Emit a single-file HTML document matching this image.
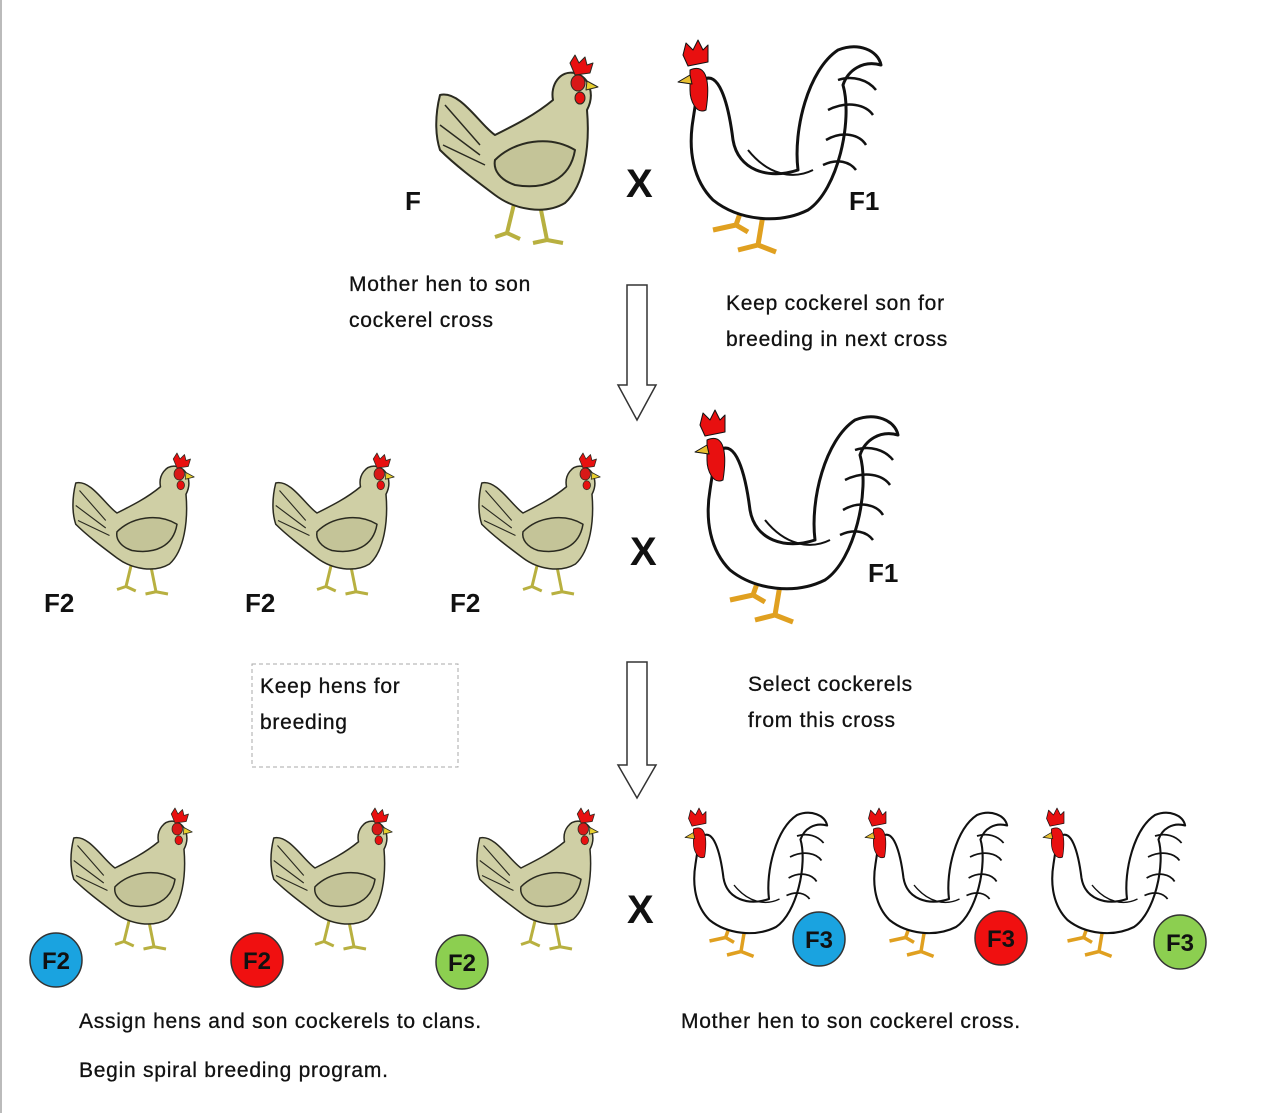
<!DOCTYPE html>
<html><head><meta charset="utf-8"><style>
body{margin:0;background:#fff}
.w{position:relative;width:1266px;height:1113px;overflow:hidden;font-family:"Liberation Sans",Arial,sans-serif;border-left:2px solid #bbb;box-sizing:border-box}
.t{position:absolute;font-size:21px;letter-spacing:0.75px;color:#111;line-height:36px;-webkit-text-stroke:0.3px #111}
.b{position:absolute;font-size:26px;font-weight:bold;color:#111}
</style></head><body><div class="w">
<svg width="1266" height="1113" style="position:absolute;left:-2px;top:0">
<defs>
<g id="hen" stroke="#2a2a20" stroke-width="2" stroke-linejoin="round">
 <path d="M80 145 L72 178 L60 182 M72 178 L85 184 M105 150 L112 185 L98 188 M112 185 L128 188" stroke="#b8b040" stroke-width="4" fill="none"/>
 <path d="M5 40 C25 35 45 70 60 80 C80 70 100 60 118 45 C115 30 125 15 140 18 C155 22 160 40 152 55 C155 90 150 130 130 148 C110 160 80 155 60 140 C40 125 20 110 5 95 C0 80 0 60 5 40 Z" fill="#cfcfa5"/>
 <path d="M60 105 C80 85 115 80 140 95 C135 125 110 135 80 130 C65 125 58 115 60 105 Z" fill="#c4c498"/>
 <path d="M10 50 L45 90 M5 70 L45 100 M8 90 L50 110" fill="none" stroke-width="1.5"/>
 <path d="M135 8 L140 0 L144 8 L150 2 L152 10 L158 8 L155 18 L140 20 Z" fill="#e81010" stroke-width="1"/>
 <ellipse cx="143" cy="28" rx="7" ry="8" fill="#d81818" stroke-width="1"/>
 <ellipse cx="145" cy="43" rx="5" ry="6" fill="#e81010" stroke-width="1"/>
 <path d="M152 26 L163 32 L151 35 Z" fill="#e8d030" stroke-width="1"/>
</g>
<g id="roo" stroke="#111" stroke-width="3" stroke-linejoin="round">
 <path d="M65 165 L58 185 L35 190 M58 185 L70 192 M85 175 L80 205 L60 210 M80 205 L98 212" stroke="#e0a020" stroke-width="5" fill="none"/>
 <path d="M25 40 C40 30 50 60 55 100 C60 130 90 140 120 130 C115 90 130 30 160 10 C180 2 200 10 203 25 C185 20 170 30 165 45 C175 80 160 150 130 170 C100 185 60 180 35 160 C15 140 10 110 15 80 C18 60 20 45 25 40 Z" fill="#fff"/>
 <path d="M70 110 C90 135 115 140 135 130" fill="none" stroke-width="2"/>
 <path d="M160 40 C175 35 190 40 198 50 M150 70 C170 60 188 65 195 75 M148 100 C165 90 182 95 188 105 M145 125 C160 118 172 122 178 130" fill="none" stroke-width="2.5"/>
 <path d="M5 15 L8 3 L15 10 L20 0 L25 10 L30 5 L30 22 L10 26 Z" fill="#e81010" stroke-width="1"/>
 <path d="M12 30 C30 22 32 45 28 70 C18 75 12 60 12 50 Z" fill="#e81010" stroke-width="1"/>
 <path d="M12 35 L0 42 L14 44 Z" fill="#e8c030" stroke-width="1"/>
</g>
</defs>
<use href="#hen" transform="translate(435,55) scale(1,1)"/>
<use href="#roo" transform="translate(678,40)"/>
<use href="#hen" transform="translate(72,453) scale(0.75)"/>
<use href="#hen" transform="translate(272,453) scale(0.75)"/>
<use href="#hen" transform="translate(478,453) scale(0.75)"/>
<use href="#roo" transform="translate(695,410)"/>
<use href="#hen" transform="translate(70,808) scale(0.75)"/>
<use href="#hen" transform="translate(270,808) scale(0.75)"/>
<use href="#hen" transform="translate(476,808) scale(0.75)"/>
<use href="#roo" transform="translate(685,808) scale(0.7)"/>
<use href="#roo" transform="translate(865,808) scale(0.7)"/>
<use href="#roo" transform="translate(1043,808) scale(0.7)"/>
<path d="M627 285 H647 V385 H656 L637 420 L618 385 H627 Z" fill="#fff" stroke="#333" stroke-width="1.5"/>
<path d="M627 662 H647 V765 H656 L637 798 L618 765 H627 Z" fill="#fff" stroke="#333" stroke-width="1.5"/>
<rect x="252" y="664" width="206" height="103" fill="none" stroke="#aaa" stroke-dasharray="4,3"/>
<g stroke="#333" stroke-width="1.5">
<ellipse cx="56" cy="960" rx="26" ry="27" fill="#1aa3e0"/>
<ellipse cx="257" cy="960" rx="26" ry="27" fill="#f01010"/>
<ellipse cx="462" cy="962" rx="26" ry="27" fill="#8ccf50"/>
<ellipse cx="819" cy="939" rx="26" ry="27" fill="#1aa3e0"/>
<ellipse cx="1001" cy="938" rx="26" ry="27" fill="#f01010"/>
<ellipse cx="1180" cy="942" rx="26" ry="27" fill="#8ccf50"/>
</g>
<g font-family="Liberation Sans,Arial,sans-serif" font-weight="bold" font-size="24" text-anchor="middle" fill="#111">
<text x="56" y="969">F2</text><text x="257" y="969">F2</text><text x="462" y="971">F2</text>
<text x="819" y="948">F3</text><text x="1001" y="947">F3</text><text x="1180" y="951">F3</text>
</g>
</svg>
<div class="b" style="left:403px;top:186px">F</div>
<div class="b" style="left:847px;top:186px">F1</div>
<div class="b" style="left:624px;top:162px;font-size:40px">X</div>
<div class="b" style="left:42px;top:588px">F2</div>
<div class="b" style="left:243px;top:588px">F2</div>
<div class="b" style="left:448px;top:588px">F2</div>
<div class="b" style="left:628px;top:530px;font-size:40px">X</div>
<div class="b" style="left:866px;top:558px">F1</div>
<div class="b" style="left:625px;top:888px;font-size:40px">X</div>
<div class="t" style="left:347px;top:267px">Mother hen to son<br>cockerel cross</div>
<div class="t" style="left:724px;top:286px">Keep cockerel son for<br>breeding in next cross</div>
<div class="t" style="left:258px;top:669px">Keep hens for<br>breeding</div>
<div class="t" style="left:746px;top:667px">Select cockerels<br>from this cross</div>
<div class="t" style="left:77px;top:1004px">Assign hens and son cockerels to clans.</div>
<div class="t" style="left:77px;top:1053px">Begin spiral breeding program.</div>
<div class="t" style="left:679px;top:1004px">Mother hen to son cockerel cross.</div>
</div></body></html>
